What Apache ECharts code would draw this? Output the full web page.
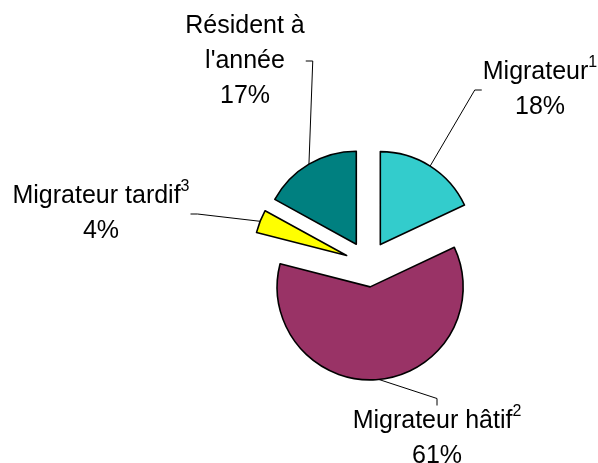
<!DOCTYPE html>
<html>
<head>
<meta charset="utf-8">
<script src="https://cdn.jsdelivr.net/npm/echarts@6/dist/echarts.min.js"></script>
<style>
  html, body { margin: 0; padding: 0; background: #fff; }
  #chart { width: 598px; height: 463px; }
</style>
</head>
<body>
<div id="chart"></div>
<script>
// données
const categories = ['Migrateur', 'Migrateur hâtif', 'Migrateur tardif', "Résident à\nl'année"];
const percents = [18, 61, 4, 17];
const notes = ['1', '2', '3', ''];

// couleurs et position des étiquettes
const colors = ['#33CCCC', '#993366', '#FFFF00', '#008080'];
const labelPos = [[540, 90], [437, 439], [101, 214], [245, 61]];
const labelSide = ['left', 'top', 'right', 'right'];   // côté où s'accroche le trait

const font = 'Arial, "Liberation Sans", sans-serif';
const center = [368, 264];
const radius = 93;
const explode = 23;

const chart = echarts.init(document.getElementById('chart'));

// secteurs éclatés
const sliceData = categories.map((name, i) => ({
  name: name,
  value: percents[i],
  selected: true,
  itemStyle: { color: colors[i] }
}));

// même découpage, invisible, qui porte les étiquettes et les traits de rappel
const labelData = categories.map((name, i) => ({
  name: name,
  value: percents[i]
}));

chart.setOption({
  animation: false,
  backgroundColor: '#fff',
  series: [{
    type: 'pie',
    z: 3,
    center: center,
    radius: radius,
    startAngle: 90,
    clockwise: true,
    selectedMode: 'multiple',
    selectedOffset: explode,
    silent: true,
    data: sliceData,
    itemStyle: { borderColor: '#000', borderWidth: 1.6 },
    label: { show: false },
    labelLine: { show: false }
  }, {
    type: 'pie',
    z: 2,
    center: center,
    radius: radius,
    startAngle: 90,
    clockwise: true,
    silent: true,
    avoidLabelOverlap: false,
    data: labelData,
    itemStyle: { color: 'rgba(0,0,0,0)', borderWidth: 0 },
    label: {
      show: true,
      position: 'outside',
      align: 'center',
      formatter: p => {
        const lines = p.name.split('\n').map(s => '{t|' + s + '}');
        const n = notes[p.dataIndex];
        if (n) lines[lines.length - 1] += '{s|' + n + '}';
        return lines.join('\n') + '\n{t|' + p.value + '%}';
      },
      rich: {
        t: { fontSize: 25, lineHeight: 35, color: '#000', fontFamily: font },
        s: { fontSize: 16, lineHeight: 24, verticalAlign: 'top', color: '#000', fontFamily: font }
      }
    },
    labelLine: {
      show: true,
      length: 10,
      length2: 7,
      lineStyle: { color: '#000', width: 1 }
    },
    labelLayout: params => {
      const i = params.dataIndex;
      const x = labelPos[i][0], y = labelPos[i][1];
      const out = { x: x, y: y, align: 'center', verticalAlign: 'middle' };
      const pts = params.labelLinePoints;
      if (pts && params.labelRect) {
        // point du bord au milieu du secteur, déplacé comme le secteur éclaté
        const p0 = pts[0];
        const k = explode / radius;
        const start = [p0[0] + (p0[0] - center[0]) * k, p0[1] + (p0[1] - center[1]) * k];
        const w = params.labelRect.width, h = params.labelRect.height;
        const gap = 1, tick = 7;
        let end, mid;
        if (labelSide[i] === 'left') { end = [x - w / 2 - gap, y]; mid = [end[0] - tick, y]; }
        else if (labelSide[i] === 'right') { end = [x + w / 2 + gap, y]; mid = [end[0] + tick, y]; }
        else { end = [x, y - h / 2 - gap]; mid = [x, end[1] - tick]; }
        out.labelLinePoints = [start, mid, end];
      }
      return out;
    }
  }]
});
</script>
</body>
</html>
